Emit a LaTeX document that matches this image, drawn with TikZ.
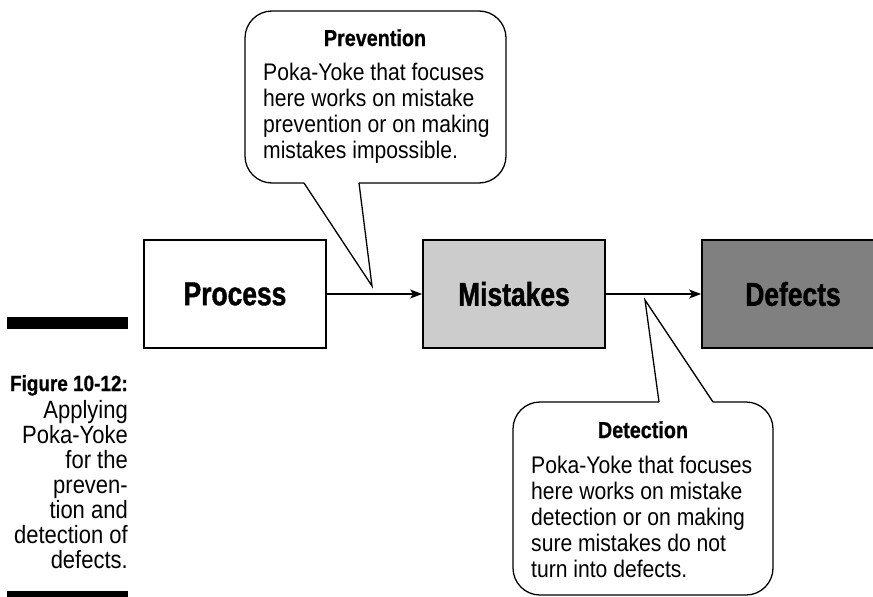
\documentclass[tikz,border=0pt]{standalone}
\usepackage{fontspec}
\setmainfont{Liberation Sans}
\newfontfamily\narrowfont[FakeStretch=0.8, BoldFeatures={FakeBold=1.2}]{Liberation Sans}
\newfontfamily\headfont[FakeStretch=0.86, BoldFeatures={FakeBold=0.8}]{Liberation Sans}
\newfontfamily\bodyfont[FakeStretch=0.88]{Liberation Sans}
\usetikzlibrary{arrows.meta}

\definecolor{mistakegray}{HTML}{CCCCCC}
\definecolor{defectgray}{HTML}{808080}

\begin{document}
\begin{tikzpicture}[
        x=1pt, y=-1pt,
        stage box/.style={draw, line width=1.8pt, minimum width=182pt, minimum height=108pt,
            font=\narrowfont\bfseries\fontsize{33}{36}\selectfont},
        flow/.style={line width=1.4pt, -{Stealth[length=12pt, width=9pt, inset=3pt]}},
        balloon/.style={line width=1.3pt, line join=miter},
        head text/.style={font=\headfont\bfseries\fontsize{23}{26}\selectfont, inner sep=0pt},
        body text/.style={font=\bodyfont\fontsize{24}{26}\selectfont, inner sep=0pt, anchor=base west},
        caption text/.style={font=\bodyfont\fontsize{25}{25}\selectfont, inner sep=0pt, anchor=base east},
    ]

    \useasboundingbox (0,0) rectangle (873,597);
    \clip (0,0) rectangle (873,597);

    % Ba khối chính của quy trình
    \node[stage box, fill=white] (process) at (235,294) {Process};
    \node[stage box, fill=mistakegray] (mistakes) at (514,294) {Mistakes};
    \node[stage box, fill=defectgray] (defects) at (793,294) {Defects};

    \draw[flow] (process) -- (mistakes);
    \draw[flow] (mistakes) -- (defects);

    % Bong bóng phía trên: phòng ngừa
    \coordinate (prev-tip) at (372,286);
    \coordinate (prev-left) at (304,183);
    \coordinate (prev-right) at (359,183);
    \draw[balloon, rounded corners=27pt] (prev-right) -- (506,183) -- (506,11) -- (245,11) -- (245,183) -- (prev-left);
    \draw[balloon] (prev-left) -- (prev-tip) -- (prev-right);

    \node[head text, anchor=base] (prev-head) at (375,46) {Prevention};
    \foreach \ln [count=\i from 0] in {Poka-Yoke that focuses, here works on mistake,
            prevention or on making, mistakes impossible.} {
        \node[body text] (prev-\i) at (263,80+26*\i) {\ln};
    }

    % Bong bóng phía dưới: phát hiện
    \coordinate (det-tip) at (645,300);
    \coordinate (det-left) at (659,402);
    \coordinate (det-right) at (713,402);
    \draw[balloon, rounded corners=27pt] (det-left) -- (513,402) -- (513,595) -- (773,595) -- (773,402) -- (det-right);
    \draw[balloon] (det-left) -- (det-tip) -- (det-right);

    \node[head text, anchor=base] (det-head) at (643,438) {Detection};
    \foreach \ln [count=\i from 0] in {Poka-Yoke that focuses, here works on mistake,
            detection or on making, sure mistakes do not, turn into defects.} {
        \node[body text] (det-\i) at (531,473+26*\i) {\ln};
    }

    % Chú thích hình bên trái
    \fill (7,317) rectangle (128,329);
    \node[caption text, font=\headfont\bfseries\fontsize{22}{25}\selectfont] (fig-num) at (128,391) {Figure 10-12:};
    \foreach \ln [count=\i from 0] in {Applying, Poka-Yoke, for the, preven-, tion and, detection of, defects.} {
        \node[caption text] (cap-\i) at (128,418+25*\i) {\ln};
    }
    \fill (7,591) rectangle (128,600);

\end{tikzpicture}
\end{document}
